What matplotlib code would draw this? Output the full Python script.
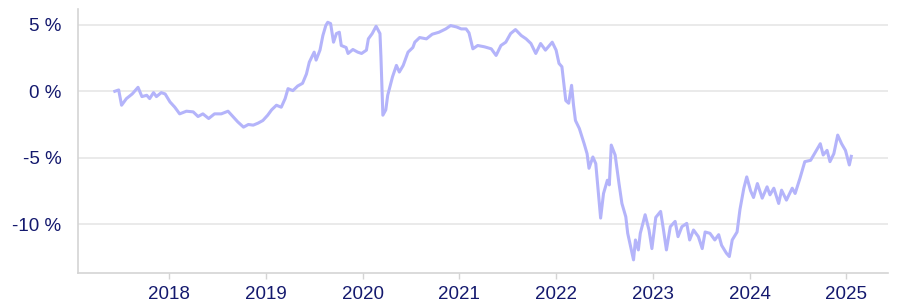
import matplotlib
matplotlib.use("Agg")
import matplotlib.pyplot as plt
from matplotlib.ticker import FuncFormatter

# decimal years
years = [
    2017.44, 2017.48, 2017.51, 2017.56, 2017.62, 2017.68, 2017.72, 2017.77, 2017.80, 2017.84,
    2017.87, 2017.92, 2017.96, 2018.01, 2018.06, 2018.11, 2018.18, 2018.25, 2018.30, 2018.35,
    2018.41, 2018.47, 2018.54, 2018.61, 2018.66, 2018.71, 2018.77, 2018.82, 2018.87, 2018.92,
    2018.97, 2019.02, 2019.06, 2019.11, 2019.16, 2019.20, 2019.23, 2019.28, 2019.33, 2019.38,
    2019.42, 2019.45, 2019.50, 2019.52, 2019.56, 2019.59, 2019.62, 2019.64, 2019.67, 2019.70,
    2019.73, 2019.76, 2019.78, 2019.83, 2019.85, 2019.90, 2019.95, 2019.99, 2020.04, 2020.06,
    2020.10, 2020.14, 2020.18, 2020.19, 2020.21, 2020.24, 2020.26, 2020.31, 2020.35, 2020.38,
    2020.42, 2020.47, 2020.52, 2020.54, 2020.59, 2020.66, 2020.72, 2020.79, 2020.86, 2020.91,
    2020.97, 2021.02, 2021.07, 2021.10, 2021.14, 2021.19, 2021.26, 2021.33, 2021.38, 2021.43,
    2021.48, 2021.53, 2021.58, 2021.64, 2021.69, 2021.74, 2021.79, 2021.84, 2021.89, 2021.96,
    2022.00, 2022.03, 2022.06, 2022.10, 2022.13, 2022.16, 2022.18, 2022.20, 2022.24, 2022.29,
    2022.32, 2022.34, 2022.38, 2022.41, 2022.44, 2022.46, 2022.49, 2022.53, 2022.55, 2022.57,
    2022.61, 2022.65, 2022.68, 2022.72, 2022.74, 2022.77, 2022.80, 2022.82, 2022.85, 2022.87,
    2022.92, 2022.96, 2022.99, 2023.03, 2023.08, 2023.11, 2023.14, 2023.18, 2023.23, 2023.26,
    2023.30, 2023.35, 2023.38, 2023.42, 2023.47, 2023.51, 2023.54, 2023.59, 2023.64, 2023.68,
    2023.71, 2023.76, 2023.79, 2023.82, 2023.87, 2023.90, 2023.94, 2023.97, 2024.01, 2024.04,
    2024.08, 2024.13, 2024.18, 2024.21, 2024.25, 2024.30, 2024.33, 2024.38, 2024.44, 2024.47,
    2024.52, 2024.57, 2024.63, 2024.67, 2024.69, 2024.73, 2024.76, 2024.80, 2024.83, 2024.87,
    2024.91, 2024.95, 2024.99, 2025.03, 2025.05,
]

# change in %
values = [
    0.0, 0.1, -1.05, -0.55, -0.2, 0.3, -0.4, -0.3, -0.55, -0.1,
    -0.4, -0.1, -0.2, -0.8, -1.2, -1.7, -1.5, -1.55, -1.9, -1.7,
    -2.05, -1.7, -1.7, -1.5, -1.9, -2.3, -2.7, -2.5, -2.55, -2.4,
    -2.2, -1.8, -1.4, -1.05, -1.2, -0.55, 0.2, 0.05, 0.4, 0.6,
    1.3, 2.2, 2.95, 2.35, 3.1, 4.2, 4.95, 5.2, 5.1, 3.7,
    4.35, 4.45, 3.45, 3.3, 2.85, 3.15, 2.95, 2.85, 3.1, 3.95,
    4.35, 4.9, 4.35, 2.6, -1.8, -1.4, -0.3, 1.1, 1.95, 1.45,
    1.95, 2.95, 3.3, 3.7, 4.05, 3.95, 4.3, 4.45, 4.7, 4.95,
    4.85, 4.7, 4.7, 4.4, 3.2, 3.45, 3.35, 3.2, 2.7, 3.45,
    3.7, 4.35, 4.65, 4.2, 3.95, 3.6, 2.85, 3.6, 3.1, 3.7,
    3.1, 2.1, 1.85, -0.7, -0.9, 0.45, -1.05, -2.2, -2.8, -3.95,
    -4.7, -5.8, -4.95, -5.45, -7.95, -9.55, -7.7, -6.7, -7.05, -4.05,
    -4.8, -6.95, -8.45, -9.45, -10.7, -11.7, -12.7, -11.2, -11.95, -10.7,
    -9.3, -10.45, -11.85, -9.5, -9.05, -10.45, -11.95, -10.2, -9.8, -10.95,
    -10.2, -9.95, -11.2, -10.45, -10.95, -11.85, -10.6, -10.7, -11.2, -10.8,
    -11.6, -12.2, -12.45, -11.2, -10.6, -8.9, -7.3, -6.45, -7.5, -8.0,
    -6.95, -8.05, -7.2, -7.8, -7.3, -8.45, -7.45, -8.2, -7.3, -7.7,
    -6.55, -5.3, -5.2, -4.7, -4.45, -3.95, -4.8, -4.45, -5.3, -4.7,
    -3.3, -3.95, -4.45, -5.55, -4.9,
]

year_ticks = [2018, 2019, 2020, 2021, 2022, 2023, 2024, 2025]
pct_ticks = [-10, -5, 0, 5]

navy = "#14196e"
plt.rcParams["font.family"] = ["Liberation Sans", "DejaVu Sans"]

fig = plt.figure(figsize=(8.98, 3.07), dpi=100)
ax = fig.add_axes([0.0869, 0.1107, 0.902, 0.86])

ax.plot(years, values, color="#b4b4fa", lw=2.2, solid_joinstyle="round")

ax.set_xlim(2017.06, 2025.43)
ax.set_ylim(-13.69, 6.2)
ax.set_xticks(year_ticks)
ax.set_xticklabels([str(y) for y in year_ticks])
ax.set_yticks(pct_ticks)
ax.yaxis.set_major_formatter(FuncFormatter(lambda v, p: f"{v:g} %"))

ax.grid(axis="y", color="#e6e6e6", lw=1.2)
ax.set_axisbelow(True)
for side in ["top", "right"]:
    ax.spines[side].set_visible(False)
for side in ["left", "bottom"]:
    ax.spines[side].set_color("#d4d4d4")
    ax.spines[side].set_linewidth(1.2)

ax.tick_params(axis="y", length=0, pad=12, labelsize=13.5, labelcolor=navy)
ax.tick_params(axis="x", length=4, width=1, color="#d4d4d4", pad=5,
               labelsize=13.5, labelcolor=navy)

fig.savefig("out.png", dpi=100)
